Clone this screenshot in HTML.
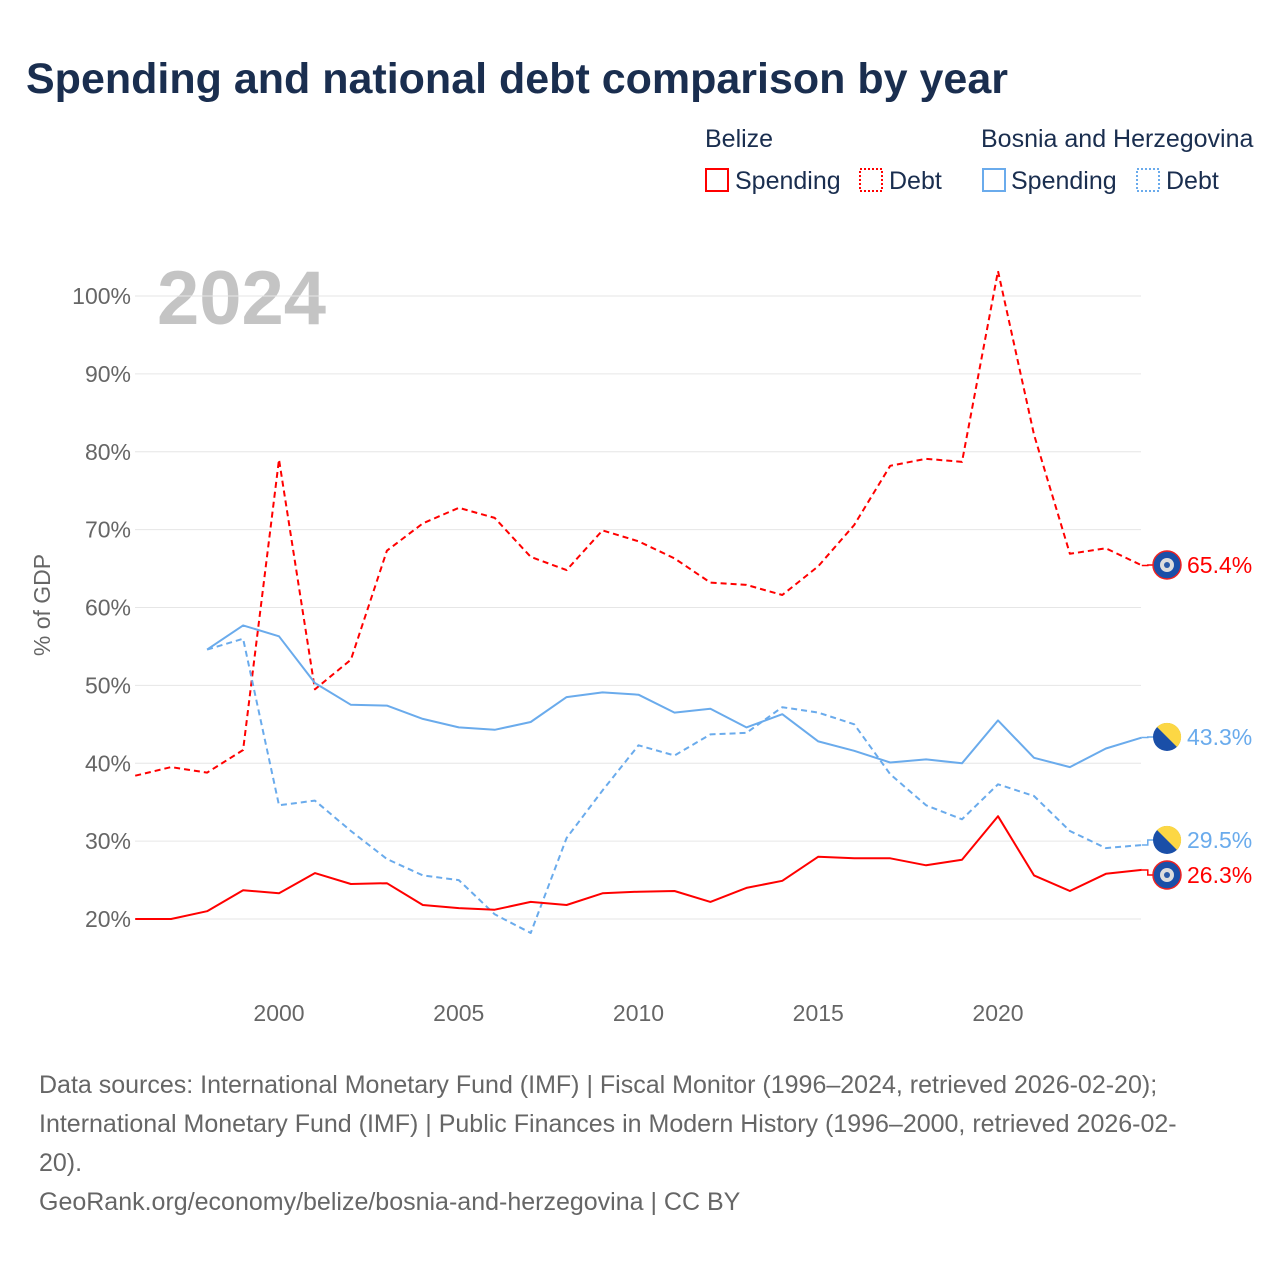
<!DOCTYPE html>
<html><head><meta charset="utf-8"><style>
body{margin:0;background:#fff;font-family:"Liberation Sans",sans-serif}
</style></head><body>
<svg id="c" width="1280" height="1280" xmlns="http://www.w3.org/2000/svg" font-family="Liberation Sans, sans-serif">
<rect width="1280" height="1280" fill="#fff"/>
<text x="26" y="93" font-size="43" font-weight="bold" fill="#1a2e4f">Spending and national debt comparison by year</text>
<g font-size="25" fill="#1a2e4f">
<text x="705" y="147">Belize</text>
<text x="981" y="147">Bosnia and Herzegovina</text>
<g><rect x="706" y="169" width="22" height="22" fill="none" stroke="#f00" stroke-width="2"/><text x="735" y="189">Spending</text></g>
<g><rect x="860" y="169" width="22" height="22" fill="none" stroke="#f00" stroke-width="2" stroke-dasharray="2,2"/><text x="889" y="189">Debt</text></g>
<g><rect x="983" y="169" width="22" height="22" fill="none" stroke="#6aabec" stroke-width="2"/><text x="1011" y="189">Spending</text></g>
<g><rect x="1137" y="169" width="22" height="22" fill="none" stroke="#6aabec" stroke-width="2" stroke-dasharray="2,2"/><text x="1166" y="189">Debt</text></g>
</g>
<text x="157" y="324" font-size="76" font-weight="bold" fill="#c4c4c4">2024</text>
<g id="grid"></g><g id="series"></g><g id="ends"></g>
<text transform="translate(50,605) rotate(-90)" text-anchor="middle" font-size="23" fill="#666">% of GDP</text>
<g font-size="25" fill="#666">
<text x="39" y="1093">Data sources: International Monetary Fund (IMF) | Fiscal Monitor (1996–2024, retrieved 2026-02-20);</text>
<text x="39" y="1132">International Monetary Fund (IMF) | Public Finances in Modern History (1996–2000, retrieved 2026-02-</text>
<text x="39" y="1171">20).</text>
<text x="39" y="1210">GeoRank.org/economy/belize/bosnia-and-herzegovina | CC BY</text>
</g>
</svg>
<script>
const years=[1996,1997,1998,1999,2000,2001,2002,2003,2004,2005,2006,2007,2008,2009,2010,2011,2012,2013,2014,2015,2016,2017,2018,2019,2020,2021,2022,2023,2024];
const belizeSpending=[20.0,20.0,21.0,23.7,23.3,25.9,24.5,24.6,21.8,21.4,21.2,22.2,21.8,23.3,23.5,23.6,22.2,24.0,24.9,28.0,27.8,27.8,26.9,27.6,33.2,25.6,23.6,25.8,26.3];
const belizeDebt=[38.4,39.5,38.8,41.7,79.0,49.5,53.3,67.3,70.8,72.8,71.5,66.5,64.8,69.9,68.5,66.3,63.2,62.9,61.6,65.3,70.6,78.2,79.1,78.7,103.2,82.2,66.9,67.6,65.4];
const bihSpending=[null,null,54.6,57.7,56.3,50.3,47.5,47.4,45.7,44.6,44.3,45.3,48.5,49.1,48.8,46.5,47.0,44.6,46.3,42.8,41.6,40.1,40.5,40.0,45.5,40.7,39.5,41.9,43.3];
const bihDebt=[null,null,54.6,56.0,34.6,35.2,31.3,27.7,25.6,25.0,20.6,18.2,30.4,36.5,42.3,41.0,43.7,43.9,47.2,46.5,45.0,38.6,34.6,32.8,37.3,35.8,31.3,29.1,29.5];
const yTicks=[20,30,40,50,60,70,80,90,100];
const xTicks=[2000,2005,2010,2015,2020];
const NS="http://www.w3.org/2000/svg";
const x=v=>135.2+(v-1996)*35.95;
const y=v=>919-(v-20)*7.7875;
function mk(t,a,p){const e=document.createElementNS(NS,t);for(const k in a)e.setAttribute(k,a[k]);p.appendChild(e);return e;}
const g=document.getElementById('grid');
yTicks.forEach(t=>{
 const l=mk('line',{x1:135,x2:1141,y1:y(t),y2:y(t),stroke:'#e6e6e6','stroke-width':1},g);
 
 
 const tx=mk('text',{x:131,y:y(t)+8,'text-anchor':'end','font-size':23,fill:'#666'},g);
 tx.textContent=t+'%';
 
 
});
xTicks.forEach(t=>{
 const tx=mk('text',{x:x(t),y:1021,'text-anchor':'middle','font-size':23,fill:'#666'},g);
 tx.textContent=t;
 
 
});
const s=document.getElementById('series');
function line(vals,col,dash,name){
 let d='';vals.forEach((v,i)=>{if(v==null)return;d+=(d?'L':'M')+x(years[i]).toFixed(1)+','+y(v).toFixed(1);});
 const p=mk('path',{d:d,fill:'none',stroke:col,'stroke-width':2,'stroke-dasharray':dash?'6,4':'none','stroke-linejoin':'round'},s);
 
 
}
line(belizeDebt,'#f00',true,'belize-debt-line');
line(bihDebt,'#6aabec',true,'bih-debt-line');
line(bihSpending,'#6aabec',false,'bih-spending-line');
line(belizeSpending,'#f00',false,'belize-spending-line');
const en=document.getElementById('ends');
function endLabel(v,ly,col,flag,name){
 const lx=x(2024);
 mk('path',{d:`M${lx},${y(v)}L${lx+6},${y(v)}L${lx+6},${ly}L${1153},${ly}`,fill:'none',stroke:col,'stroke-width':1.5},en);
 const f=mk('g',{},en);
 
 
 if(flag==='bz'){
  mk('circle',{cx:1167,cy:ly,r:14,fill:'#1a4fa8',stroke:'#e22',"stroke-width":1.5},f);
  mk('circle',{cx:1167,cy:ly,r:7,fill:'#ddd'},f);
  mk('circle',{cx:1167,cy:ly,r:3,fill:'#2a5aa8'},f);
 } else {
  mk('circle',{cx:1167,cy:ly,r:14,fill:'#1a4fa8'},f);
  mk('path',{d:`M${1157},${ly-10}L${1177},${ly+10}A14,14 0 0 0 ${1157},${ly-10}Z`,fill:'#fcd744'},f);
 }
 const t=mk('text',{x:1187,y:ly+8,'font-size':23,fill:col},en);
 t.textContent=v.toFixed(1)+'%';
 
 
}
endLabel(belizeDebt[28],565,'#f00','bz','belize-debt');
endLabel(bihSpending[28],737,'#6aabec','ba','bih-spending');
endLabel(bihDebt[28],840,'#6aabec','ba','bih-debt');
endLabel(belizeSpending[28],875,'#f00','bz','belize-spending');
</script>
</body></html>
